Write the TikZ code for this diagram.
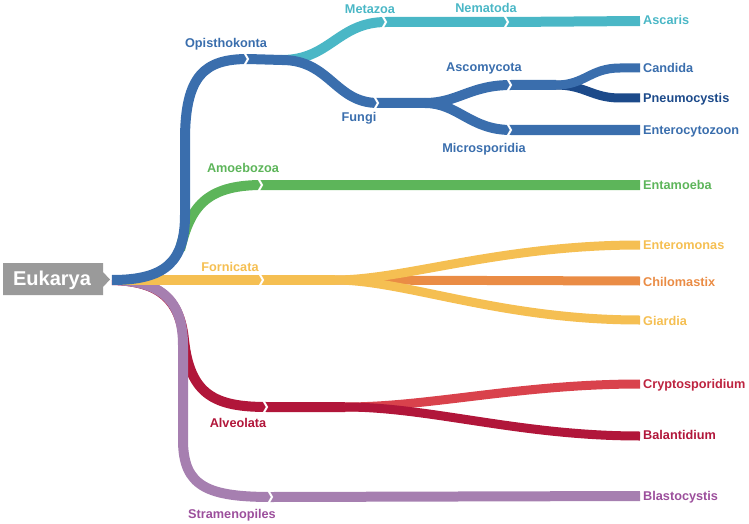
\documentclass[tikz,border=0pt]{standalone}
\usepackage{fontspec}
\setmainfont{Liberation Sans}
\definecolor{cGray}{HTML}{9A9A9A}
\definecolor{cBlue}{HTML}{3A6EAD}
\definecolor{cTeal}{HTML}{4AB7C6}
\definecolor{cDBlue}{HTML}{1C4A8A}
\definecolor{cGreen}{HTML}{5DB55A}
\definecolor{cYellow}{HTML}{F5BF52}
\definecolor{cOrange}{HTML}{EA8C45}
\definecolor{cRed}{HTML}{D9424C}
\definecolor{cDRed}{HTML}{B1163A}
\definecolor{cPurple}{HTML}{A67FB0}
\definecolor{cPurpleT}{HTML}{9C4F9C}
\begin{document}
\begin{tikzpicture}[x=1pt,y=-1pt,
  br/.style={line width=10pt},
  lf/.style={line width=9pt},
  chev/.style={draw=white,line width=2pt},
  lab/.style={font=\fontsize{12.7}{14}\selectfont\bfseries, inner sep=0pt},
  leaf/.style={lab,anchor=west}]
\useasboundingbox (0,0) rectangle (749,524);
\newcommand\chevat[1]{\draw[chev] ([shift={(-4,-7)}]#1) -- (#1) -- ([shift={(-4,7)}]#1);}
% root box
\fill[cGray] (3,263) -- (103,263) -- (103,272) -- (110,279.5) -- (103,287) -- (103,295) -- (3,295) -- cycle;
\node[font=\fontsize{20}{22}\selectfont\bfseries, text=white] (euk) at (52,280) {Eukarya};
\coordinate (r) at (112,280);
% junction coordinates
\coordinate (jOp) at (248,59);
\coordinate (sOp) at (282,60);
\coordinate (jMe) at (386,22);
\coordinate (jNe) at (508,22);
\coordinate (eAs) at (640,21);
\coordinate (jFu) at (378,103);
\coordinate (sFu) at (425,103);
\coordinate (jAc) at (511,85);
\coordinate (sAc) at (556,85);
\coordinate (eCa) at (640,68);
\coordinate (ePn) at (640,98);
\coordinate (jMi) at (511,130);
\coordinate (eEn) at (640,130);
\coordinate (gA) at (180,250);
\coordinate (jAm) at (262,185);
\coordinate (eEa) at (640,185);
\coordinate (jFo) at (263,280);
\coordinate (sFo) at (335,280);
\coordinate (eEm) at (640,245);
\coordinate (eCh) at (640,281);
\coordinate (eGi) at (640,320);
\coordinate (jAl) at (267,407);
\coordinate (sAl) at (345,407);
\coordinate (eCr) at (640,384);
\coordinate (eBa) at (640,436);
\coordinate (jSt) at (272,497);
\coordinate (eBl) at (640,496);
% Amoebozoa
\draw[br,cGreen] (gA) .. controls (190,208) and (205,185) .. (jAm) -- (eEa);
% Alveolata
\draw[br,cDRed] (r) .. controls (160,281) and (180,300) .. (184,340) .. controls (190,395) and (215,407) .. (jAl) -- (sAl);
\draw[lf,cRed] (sAl) .. controls (430,407) and (520,384) .. (eCr);
\draw[lf,cDRed] (sAl) .. controls (430,407) and (520,436) .. (eBa);
% Stramenopiles
\draw[br,cPurple] (r) .. controls (155,281) and (183,295) .. (183,345) -- (183,440) .. controls (183,487) and (208,497) .. (jSt) -- (eBl);
% Fornicata
\draw[lf,cOrange] (sFo) -- (eCh);
\draw[br,cYellow] (r) -- (jFo) -- (sFo);
\draw[lf,cYellow] (sFo) .. controls (405,280) and (500,245) .. (eEm);
\draw[lf,cYellow] (sFo) .. controls (405,280) and (500,320) .. (eGi);
% Opisthokonta
\draw[br,cTeal] (sOp) .. controls (330,60) and (338,22) .. (jMe) -- (jNe) -- (eAs);
\draw[br,cBlue] (r) .. controls (165,280) and (185,262) .. (185,215) -- (185,140) .. controls (185,75) and (205,59) .. (jOp) -- (sOp);
\draw[br,cBlue] (sOp) .. controls (330,60) and (335,103) .. (jFu) -- (sFu);
\draw[br,cBlue] (sFu) .. controls (458,103) and (470,130) .. (jMi) -- (eEn);
\draw[lf,cDBlue] (sAc) .. controls (585,85) and (592,98) .. (620,98) -- (ePn);
\draw[br,cBlue] (sFu) .. controls (458,103) and (470,85) .. (jAc) -- (sAc);
\draw[lf,cBlue] (sAc) .. controls (585,85) and (590,68) .. (620,68) -- (eCa);
% chevrons
\chevat{jOp}\chevat{jMe}\chevat{jNe}\chevat{jFu}\chevat{jAc}\chevat{jMi}
\chevat{jAm}\chevat{jFo}\chevat{jAl}\chevat{jSt}
% labels
\node[lab,text=cBlue] (lOp) at (226,44) {Opisthokonta};
\node[lab,text=cTeal] (lMe) at (370,9) {Metazoa};
\node[lab,text=cTeal] (lNe) at (486,8) {Nematoda};
\node[leaf,text=cTeal] (lAs) at (643,20) {Ascaris};
\node[lab,text=cBlue] (lFu) at (359,118) {Fungi};
\node[lab,text=cBlue] (lAc) at (484,68) {Ascomycota};
\node[lab,text=cBlue] (lMi) at (484,149) {Microsporidia};
\node[leaf,text=cBlue] (lCa) at (643,68) {Candida};
\node[leaf,text=cDBlue] (lPn) at (643,99) {Pneumocystis};
\node[leaf,text=cBlue] (lEn) at (643,131) {Enterocytozoon};
\node[lab,text=cGreen] (lAm) at (243,168) {Amoebozoa};
\node[leaf,text=cGreen] (lEa) at (643,185) {Entamoeba};
\node[lab,text=cYellow] (lFo) at (230,267) {Fornicata};
\node[leaf,text=cYellow] (lEm) at (643,245) {Enteromonas};
\node[leaf,text=cOrange] (lCh) at (643,282) {Chilomastix};
\node[leaf,text=cYellow] (lGi) at (643,321) {Giardia};
\node[lab,text=cDRed] (lAl) at (238,423) {Alveolata};
\node[leaf,text=cDRed!70!cRed] (lCr) at (643,385) {Cryptosporidium};
\node[leaf,text=cDRed] (lBa) at (643,435) {Balantidium};
\node[lab,text=cPurpleT] (lSt) at (232,515) {Stramenopiles};
\node[leaf,text=cPurpleT] (lBl) at (643,497) {Blastocystis};
\end{tikzpicture}
\end{document}
